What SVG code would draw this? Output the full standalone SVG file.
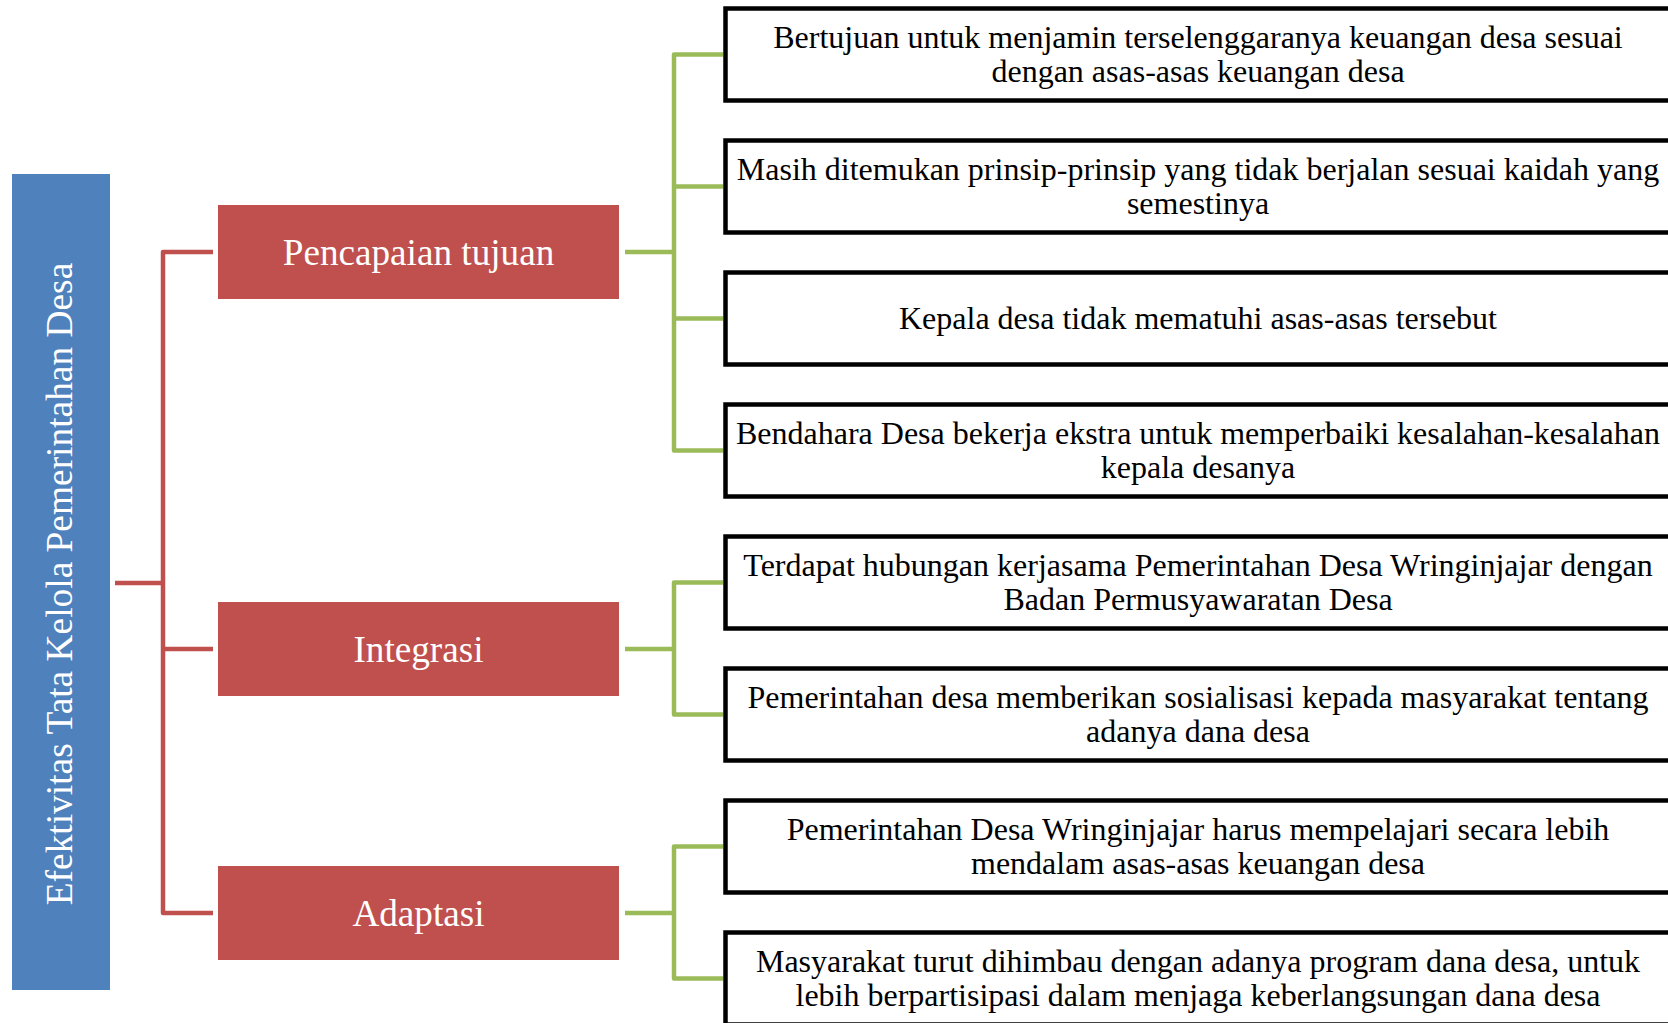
<svg xmlns="http://www.w3.org/2000/svg" width="1668" height="1023" viewBox="0 0 1668 1023">
<style>
.root{fill:#4F81BD}
.cat{fill:#C0504D}
.box{fill:#FFFFFF;stroke:#000000;stroke-width:4.5}
.red{fill:none;stroke:#C0504D;stroke-width:4.5;stroke-linejoin:round}
.green{fill:none;stroke:#9BBB59;stroke-width:4.5;stroke-linejoin:round}
.wt{font-family:"Liberation Serif","Times New Roman",serif;fill:#FFFFFF;text-anchor:middle}
.bt{font-family:"Liberation Serif","Times New Roman",serif;fill:#000000;font-size:32px;text-anchor:middle}
</style>
<rect width="1668" height="1023" fill="#FFFFFF"/>
<g id="connectors">
<path class="red" d="M115 583 H163 M213 252 H163 V913 H213 M163 649 H213"/>
<path class="green" d="M625 252 H674 M723 54.5 H674 V450.5 H723 M674 186.5 H723 M674 318.5 H723"/>
<path class="green" d="M625 649 H674 M723 582.5 H674 V714.5 H723"/>
<path class="green" d="M625 913 H674 M723 846.5 H674 V978.5 H723"/>
</g>
<g id="root">
<rect class="root" x="12" y="174" width="98" height="816"/>
<text class="wt" font-size="37.4" transform="translate(72 584) rotate(-90)" x="0" y="0">Efektivitas Tata Kelola Pemerintahan Desa</text>
</g>
<g id="cat1">
<rect class="cat" x="218" y="205" width="401" height="94"/>
<text class="wt" font-size="37.2" x="418.5" y="264.5">Pencapaian tujuan</text>
</g>
<g id="cat2">
<rect class="cat" x="218" y="602" width="401" height="94"/>
<text class="wt" font-size="37.2" x="418.5" y="661.5">Integrasi</text>
</g>
<g id="cat3">
<rect class="cat" x="218" y="866" width="401" height="94"/>
<text class="wt" font-size="37.2" x="418.5" y="925.5">Adaptasi</text>
</g>
<g id="box1">
<rect class="box" x="725.5" y="8.5" width="1000" height="92"/>
<text class="bt" x="1198" y="48">Bertujuan untuk menjamin terselenggaranya keuangan desa sesuai</text>
<text class="bt" x="1198" y="82">dengan asas-asas keuangan desa</text>
</g>
<g id="box2">
<rect class="box" x="725.5" y="140.5" width="1000" height="92"/>
<text class="bt" x="1198" y="180">Masih ditemukan prinsip-prinsip yang tidak berjalan sesuai kaidah yang</text>
<text class="bt" x="1198" y="214">semestinya</text>
</g>
<g id="box3">
<rect class="box" x="725.5" y="272.5" width="1000" height="92"/>
<text class="bt" x="1198" y="329">Kepala desa tidak mematuhi asas-asas tersebut</text>
</g>
<g id="box4">
<rect class="box" x="725.5" y="404.5" width="1000" height="92"/>
<text class="bt" x="1198" y="444">Bendahara Desa bekerja ekstra untuk memperbaiki kesalahan-kesalahan</text>
<text class="bt" x="1198" y="478">kepala desanya</text>
</g>
<g id="box5">
<rect class="box" x="725.5" y="536.5" width="1000" height="92"/>
<text class="bt" x="1198" y="576">Terdapat hubungan kerjasama Pemerintahan Desa Wringinjajar dengan</text>
<text class="bt" x="1198" y="610">Badan Permusyawaratan Desa</text>
</g>
<g id="box6">
<rect class="box" x="725.5" y="668.5" width="1000" height="92"/>
<text class="bt" x="1198" y="708">Pemerintahan desa memberikan sosialisasi kepada masyarakat tentang</text>
<text class="bt" x="1198" y="742">adanya dana desa</text>
</g>
<g id="box7">
<rect class="box" x="725.5" y="800.5" width="1000" height="92"/>
<text class="bt" x="1198" y="840">Pemerintahan Desa Wringinjajar harus mempelajari secara lebih</text>
<text class="bt" x="1198" y="874">mendalam asas-asas keuangan desa</text>
</g>
<g id="box8">
<rect class="box" x="725.5" y="932.5" width="1000" height="92"/>
<text class="bt" x="1198" y="972">Masyarakat turut dihimbau dengan adanya program dana desa, untuk</text>
<text class="bt" x="1198" y="1006">lebih berpartisipasi dalam menjaga keberlangsungan dana desa</text>
</g>
</svg>
